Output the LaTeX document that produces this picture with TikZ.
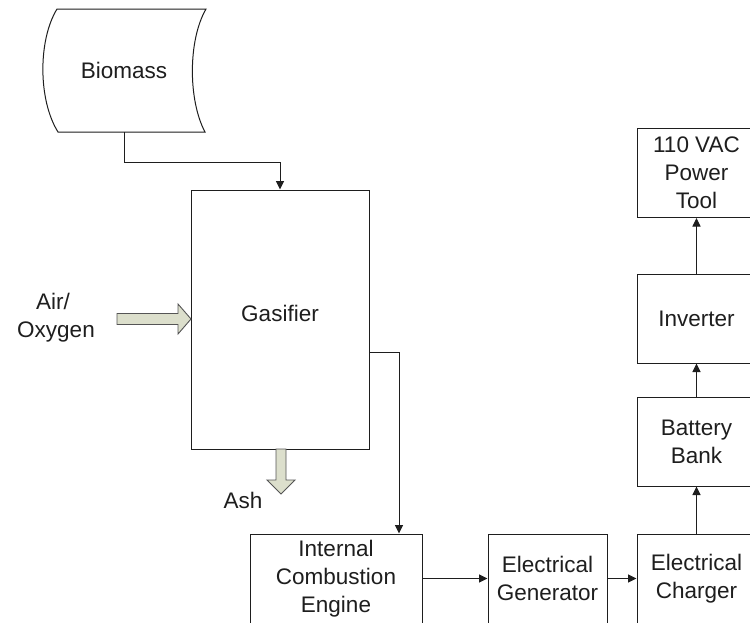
\documentclass[tikz,border=0pt]{standalone}
\usepackage{fontspec}
\setmainfont{Liberation Sans}
\usetikzlibrary{arrows.meta}
\definecolor{blk}{HTML}{1E1E1E}
\definecolor{bafill}{HTML}{DCDFCC}
\definecolor{baline}{HTML}{555555}
\begin{document}
\begin{tikzpicture}[x=1pt,y=-1pt,
  txt/.style={font=\fontsize{22.5}{28}\selectfont, text=blk, align=center, inner sep=0pt},
  blockbox/.style={txt, draw=blk, line width=1pt, rectangle, minimum width=119pt, minimum height=89pt},
  arr/.style={draw=blk, line width=1pt, -{Triangle[length=8.5pt,width=8pt]}},
  fatarrow/.style={fill=bafill, draw=baline, line width=0.9pt, line join=miter}
]
\useasboundingbox (0,0) rectangle (750,622);
\clip (0,0) rectangle (750,622);
\fill[white] (0,0) rectangle (750,622);

% Biomass (stored data shape)
\draw[draw=blk, line width=1pt] (57,9) -- (206,9)
  .. controls (188,40) and (188,100) .. (205,132) -- (58,132)
  .. controls (38,100) and (38,40) .. (57,9) -- cycle;
\node[txt] (bio) at (124,70) {Biomass};
\coordinate (biob) at (124,132);

% Gasifier
\node[draw=blk, line width=1pt, rectangle, minimum width=178pt, minimum height=259pt, inner sep=0pt] (gas) at (280,319.5) {};
\node[txt] (gastxt) at (280,313) {Gasifier};

% Air / Oxygen
\node[txt] (air) at (56,318) {Air/\kern6pt\\Oxygen};
\draw[fatarrow] (117,313.5) -- (178,313.5) -- (178,304) -- (191,319) -- (178,334) -- (178,324.5) -- (117,324.5) -- cycle;

% Ash
\draw[fatarrow] (276,449) -- (286,449) -- (286,480) -- (295,480) -- (281,494) -- (267,480) -- (276,480) -- cycle;
\node[txt] (ash) at (243,500) {Ash};

% Bottom row
\node[blockbox, minimum width=172pt] (ice) at (336,578.5) {Internal\\Combustion\\Engine};
\node[blockbox] (gen) at (547.5,578.5) {Electrical\\Generator};
\node[blockbox] (chg) at (696.5,578.5) {Electrical\\Charger};

% Right column
\node[blockbox] (bat) at (696.5,441.5) {Battery\\Bank};
\node[blockbox] (inv) at (696.5,318.5) {Inverter};
\node[blockbox] (tool) at (696.5,173) {110 VAC\\Power\\Tool};

% Connectors
\draw[arr] (biob) -- ++(0,30) -| (gas.north);
\draw[arr] ([yshift=-32.5pt]gas.east) -| ([xshift=63pt]ice.north);
\draw[arr] (ice.east) -- (gen.west);
\draw[arr] (gen.east) -- (chg.west);
\draw[arr] (chg.north) -- (bat.south);
\draw[arr] (bat.north) -- (inv.south);
\draw[arr] (inv.north) -- (tool.south);
\end{tikzpicture}
\end{document}
